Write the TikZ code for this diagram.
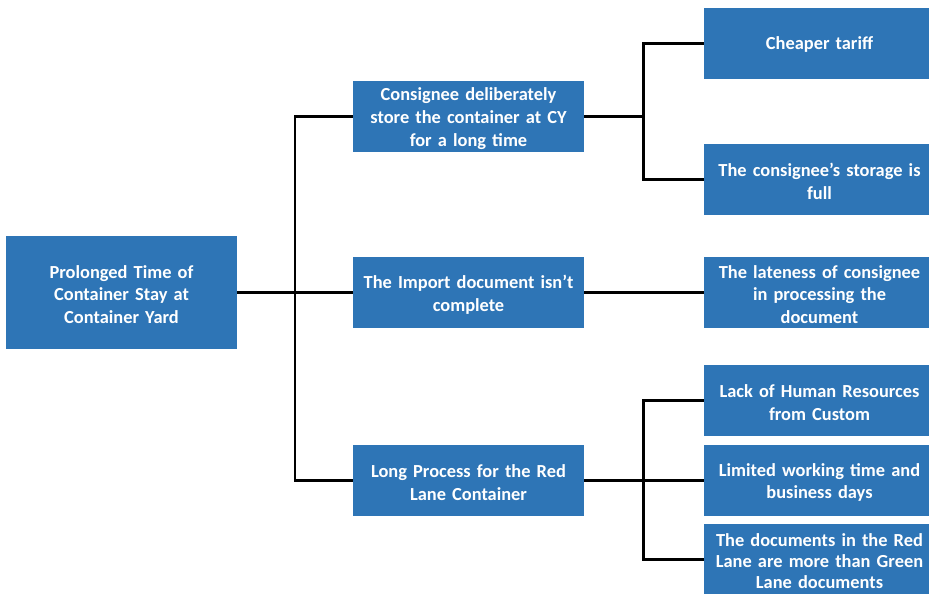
\documentclass[tikz,border=0pt]{standalone}
\usepackage{fontspec}
\setmainfont{Carlito}
\definecolor{boxblue}{RGB}{46,117,182}
\newcommand{\boxfont}{\bfseries\fontsize{18.4}{22.8}\selectfont\spaceskip=0.34em plus 0.1em minus 0.05em\relax}
\newcommand{\tightboxfont}{\bfseries\fontsize{18.4}{21}\selectfont\spaceskip=0.34em plus 0.1em minus 0.05em\relax}
% trims the bottom of a box text so that it sits a little lower
\newcommand{\trimbottom}{\par\vspace{-4pt}}
\begin{document}
\begin{tikzpicture}[x=1pt,y=-1pt,
  box/.style={fill=boxblue, draw=none, text=white, font=\boxfont,
    align=center, minimum width=231pt, inner sep=0pt, text width=229pt,
    execute at end node=\trimbottom},
  link/.style={draw=black, line width=2.8pt}]
\useasboundingbox (0,0) rectangle (929,594);
\clip (0,0) rectangle (929,594);
% root cause
\node[box, minimum height=113pt] (root) at (121.5,292.5) {Prolonged Time of\\Container Stay at\\Container Yard};
% second level
\node[box, minimum height=71pt] (m1) at (468.5,116.5) {Consignee deliberately\\store the container at CY\\for a long time};
\node[box, minimum height=71pt] (m2) at (468.5,292.5) {The Import document isn't\\complete};
\node[box, minimum height=71pt] (m3) at (468.5,480.5) {Long Process for the Red\\Lane Container};
% third level
\node[box, minimum height=71pt] (r1) at (819.5,43.5) {Cheaper tariff};
\node[box, minimum height=71pt] (r2) at (819.5,179.5) {The consignee's storage is\\full};
\node[box, minimum height=71pt] (r3) at (819.5,292.5) {The lateness of consignee\\in processing the\\document};
\node[box, minimum height=71pt] (r4) at (819.5,400.5) {Lack of Human Resources\\from Custom};
\node[box, minimum height=71pt] (r5) at (819.5,480.5) {Limited working time and\\business days};
\node[box, minimum height=71pt, font=\tightboxfont] (r6) at (819.5,559.5) {The documents in the Red\\Lane are more than Green\\Lane documents};
% junction points
\coordinate (b0) at (295,292.5);
\coordinate (b1) at (643.5,116.5);
\coordinate (b3) at (643.5,480.5);
% connectors
\draw[link] (root.east) -- (b0);
\draw[link] (b0) |- (m1.west);
\draw[link] (b0) |- (m3.west);
\draw[link] (b0) -- (m2.west);
\draw[link] (m1.east) -- (b1);
\draw[link] (b1) |- (r1.west);
\draw[link] (b1) |- (r2.west);
\draw[link] (m2.east) -- (r3.west);
\draw[link] (m3.east) -- (b3);
\draw[link] (b3) |- (r4.west);
\draw[link] (b3) |- (r5.west);
\draw[link] (b3) |- (r6.west);
\end{tikzpicture}
\end{document}
